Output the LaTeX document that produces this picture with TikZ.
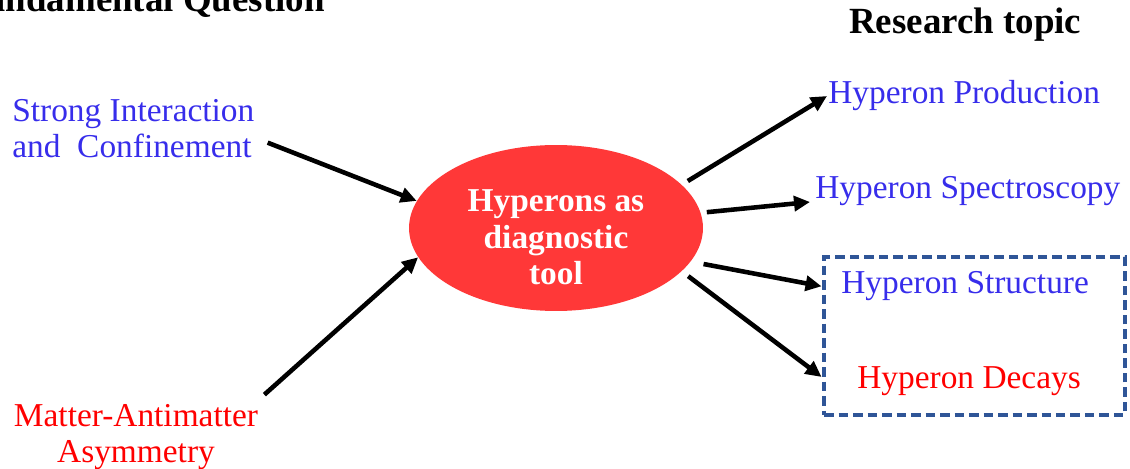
\documentclass[tikz,border=0pt]{standalone}
\usepackage{fontspec}
\setmainfont{Liberation Serif}
\usetikzlibrary{shapes.geometric,arrows.meta,positioning,calc}
\definecolor{topicblue}{RGB}{55,45,235}
\definecolor{hypred}{RGB}{255,56,56}
\definecolor{boxblue}{RGB}{47,85,151}

\begin{document}
\begin{tikzpicture}[x=0.02cm, y=-0.02cm,
    heading/.style={font=\fontsize{21}{25}\selectfont\bfseries, inner sep=0pt},
    question/.style={font=\fontsize{19}{21}\selectfont, inner sep=0pt},
    topic/.style={question, text=topicblue},
    link/.style={line width=2.6pt, -{Triangle[length=0.32cm, width=0.3cm]}},
]
    % Canvas
    \useasboundingbox (0,0) rectangle (1130,469);
    \clip (0,0) rectangle (1130,469);

    % Headings
    \node[heading, anchor=base east] (fundq) at (325,12) {Fundamental Question};
    \node[heading, anchor=base west] (restopic) at (849,34) {Research topic};

    % Fundamental questions
    \node[topic, align=left, anchor=base west] (strong) at (12,158) {Strong Interaction\\and\ \ Confinement};
    \node[question, text=red, align=center, anchor=base] (matter) at (136,463) {Matter-Antimatter\\Asymmetry};

    % Central node
    \node[ellipse, fill=hypred, minimum width=5.88cm, minimum height=3.32cm, inner sep=0pt,
          align=center, text=white, text height=65pt, font=\fontsize{19}{21}\selectfont\bfseries] (hyp) at (556,228)
          {Hyperons as\\diagnostic\\tool};

    % Research topics
    \node[topic, anchor=base west] (prod) at (828,104) {Hyperon Production};
    \node[topic, anchor=base west] (spec) at (815,199) {Hyperon Spectroscopy};
    \node[topic, anchor=base west] (struct) at (841,294) {Hyperon Structure};
    \node[question, text=red, anchor=base west] (decay) at (857,389) {Hyperon Decays};

    % Dashed frame
    \node[draw=boxblue, line width=2.8pt, dash pattern=on 0.19cm off 0.1cm,
          minimum width=6.02cm, minimum height=3.16cm, inner sep=0pt] (subbox) at (974.5,336) {};

    % Arrows
    \draw[link] ([shift={(13,14)}]strong.east) -- (hyp.169);
    \draw[link] ([shift={(6,-9)}]matter.north east) -- (hyp.192);
    \draw[link, shorten <=0.14cm] (hyp.19) -- ([shift={(-1,0)}]prod.west);
    \draw[link, shorten <=0.12cm] (hyp.6) -- ([shift={(-5,3)}]spec.base west);
    \draw[link, shorten <=0.26cm] (hyp.346) -- (subbox.162);
    \draw[link, shorten <=0.16cm] (hyp.341) -- (subbox.195);

\end{tikzpicture}
\end{document}
